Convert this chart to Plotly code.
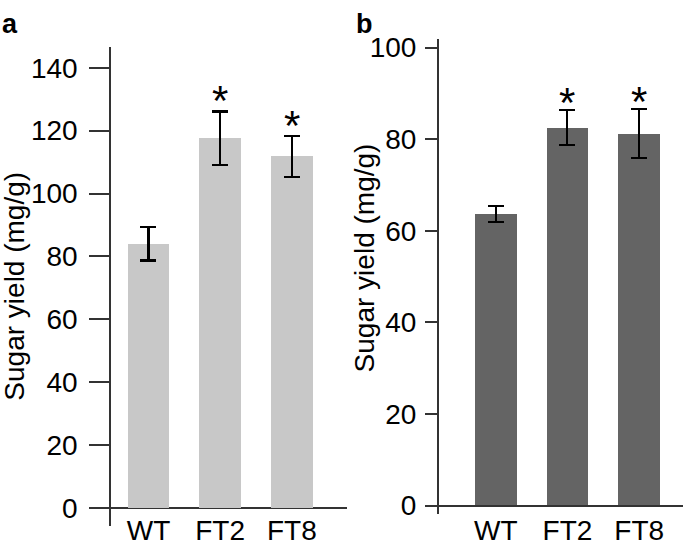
import plotly.graph_objects as go

W, H = 685, 546

categories = ["WT", "FT2", "FT8"]
yield_a = [84.0, 117.6, 111.8]
err_a = [5.3, 8.5, 6.5]
sig_a = ["", "*", "*"]
yield_b = [63.7, 82.5, 81.2]
err_b = [1.8, 3.8, 5.4]
sig_b = ["", "*", "*"]
ticks_a = [0, 20, 40, 60, 80, 100, 120, 140]
ticks_b = [0, 20, 40, 60, 80, 100]
ytitle = "Sugar yield (mg/g)"

FONT = "Liberation Sans, Arial, sans-serif"
FS = 28


def px(x):
    return x / W


def py(y):
    return 1 - y / H


fig = go.Figure()
xpos = list(range(len(categories)))

fig.add_trace(go.Bar(
    x=xpos, y=yield_a, width=0.58, marker=dict(color="#c8c8c8", line=dict(width=0)),
    error_y=dict(type="data", array=err_a, color="black", thickness=2.5, width=8),
    xaxis="x", yaxis="y", showlegend=False))
fig.add_trace(go.Bar(
    x=xpos, y=yield_b, width=0.58, marker=dict(color="#646464", line=dict(width=0)),
    error_y=dict(type="data", array=err_b, color="black", thickness=2, width=8),
    xaxis="x2", yaxis="y2", showlegend=False))

# significance markers
for i, s in enumerate(sig_a):
    if s:
        fig.add_annotation(x=xpos[i], y=yield_a[i] + err_a[i], xref="x", yref="y",
                           text=s, showarrow=False, yanchor="bottom", yshift=-15,
                           font=dict(family=FONT, size=42, color="black"))
for i, s in enumerate(sig_b):
    if s:
        fig.add_annotation(x=xpos[i], y=yield_b[i] + err_b[i], xref="x2", yref="y2",
                           text=s, showarrow=False, yanchor="bottom", yshift=-18,
                           font=dict(family=FONT, size=42, color="black"))

axis_font = dict(family=FONT, size=FS, color="black")

fig.update_layout(
    width=W, height=H, margin=dict(l=0, r=0, t=0, b=0),
    paper_bgcolor="white", plot_bgcolor="white",
    font=axis_font, bargap=0,
    xaxis=dict(domain=[px(90), px(347)], range=[-0.816, 2.77], anchor="free",
               position=py(514.3), tickvals=xpos, ticktext=categories,
               showline=False, showgrid=False, zeroline=False, ticks="",
               ticklabelstandoff=3, tickfont=axis_font),
    yaxis=dict(domain=[py(533), py(41)], range=[-5.79, 146.6], anchor="free",
               position=px(110), tickvals=ticks_a, showgrid=False,
               showline=True, linecolor="#333", linewidth=1.5,
               ticks="outside", ticklen=20, tickwidth=1.5, tickcolor="#333",
               zeroline=True, zerolinecolor="#333", zerolinewidth=1.5,
               ticklabelstandoff=6, tickfont=axis_font),
    xaxis2=dict(domain=[px(426), px(683)], range=[-0.973, 2.611], anchor="free",
                position=py(511.7), tickvals=xpos, ticktext=categories,
                showline=False, showgrid=False, zeroline=False, ticks="",
                ticklabelstandoff=5, tickfont=axis_font),
    yaxis2=dict(domain=[py(520), py(33)], range=[-1.77, 101.85], anchor="free",
                position=px(437.7), tickvals=ticks_b, showgrid=False,
                showline=True, linecolor="#333", linewidth=1.5,
                ticks="outside", ticklen=12, tickwidth=1.5, tickcolor="#333",
                zeroline=True, zerolinecolor="#333", zerolinewidth=1.5,
                ticklabelstandoff=3, tickfont=axis_font),
)

# axis titles
fig.add_annotation(x=px(15), y=py(287), xref="paper", yref="paper", text=ytitle,
                   textangle=-90, showarrow=False, font=axis_font,
                   xanchor="center", yanchor="middle")
fig.add_annotation(x=px(364), y=py(258), xref="paper", yref="paper", text=ytitle,
                   textangle=-90, showarrow=False, font=axis_font,
                   xanchor="center", yanchor="middle")

# panel labels
fig.add_annotation(x=px(0), y=py(0), xref="paper", yref="paper", text="<b>a</b>",
                   showarrow=False, xanchor="left", yanchor="top",
                   font=dict(family=FONT, size=27, color="black"))
fig.add_annotation(x=px(364), y=py(0), xref="paper", yref="paper", text="<b>b</b>",
                   showarrow=False, xanchor="center", yanchor="top",
                   font=dict(family=FONT, size=27, color="black"))

POST = "document.body.style.margin='0';document.body.style.overflow='hidden';"

fig.write_html("out.html", config={"displayModeBar": False}, post_script=POST)
